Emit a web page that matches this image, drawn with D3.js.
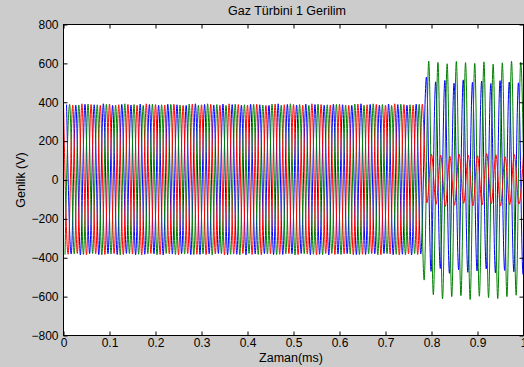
<!DOCTYPE html>
<html>
<head>
<meta charset="utf-8">
<script src="https://cdn.jsdelivr.net/npm/d3@7"></script>
<style>
  html, body { margin: 0; padding: 0; background: #cccccc; }
  svg { display: block; }
  text { font-family: "Liberation Sans", Arial, sans-serif; fill: #000; }
</style>
</head>
<body>
<div id="chart"></div>
<script>
"use strict";

// Chart texts and axis ticks
const title = "Gaz Türbini 1 Gerilim";
const xLabel = "Zaman(ms)";
const yLabel = "Genlik (V)";
const xTicks = [0, 0.1, 0.2, 0.3, 0.4, 0.5, 0.6, 0.7, 0.8, 0.9, 1];
const yTicks = [-800, -600, -400, -200, 0, 200, 400, 600, 800];

// Red phase: extreme points (time, volts)
const redT = [
  0, .01, .02, .03, .04, .05, .06, .07, .08, .09,
  .10, .11, .12, .13, .14, .15, .16, .17, .18, .19,
  .20, .21, .22, .23, .24, .25, .26, .27, .28, .29,
  .30, .31, .32, .33, .34, .35, .36, .37, .38, .39,
  .40, .41, .42, .43, .44, .45, .46, .47, .48, .49,
  .50, .51, .52, .53, .54, .55, .56, .57, .58, .59,
  .60, .61, .62, .63, .64, .65, .66, .67, .68, .69,
  .70, .71, .72, .73, .74, .75, .76, .77, .78, .79,
  .80, .81, .82, .83, .84, .85, .86, .87, .88, .89,
  .90, .91, .92, .93, .94, .95, .96, .97, .98, .99,
  1.00
];
const redV = [
  390, -382, 386, -378, 392, -385, 388, -380, 384, -383,
  391, -379, 387, -384, 389, -381, 385, -386, 392, -378,
  388, -383, 386, -380, 390, -385, 384, -379, 391, -382,
  387, -384, 389, -380, 385, -386, 392, -381, 388, -378,
  386, -383, 390, -385, 384, -380, 391, -382, 387, -379,
  389, -384, 385, -381, 392, -386, 388, -378, 386, -383,
  390, -380, 384, -385, 391, -382, 387, -379, 389, -384,
  385, -381, 392, -386, 388, -380, 386, -383, 390, -118,
  132, -125, 128, -136, 122, -130, 134, -120, 127, -133,
  125, -128, 136, -122, 130, -134, 120, -127, 131, -124,
  129
];

// Green phase
const greenT = [
  .0033, .0133, .0233, .0333, .0433, .0533, .0633, .0733, .0833, .0933,
  .1033, .1133, .1233, .1333, .1433, .1533, .1633, .1733, .1833, .1933,
  .2033, .2133, .2233, .2333, .2433, .2533, .2633, .2733, .2833, .2933,
  .3033, .3133, .3233, .3333, .3433, .3533, .3633, .3733, .3833, .3933,
  .4033, .4133, .4233, .4333, .4433, .4533, .4633, .4733, .4833, .4933,
  .5033, .5133, .5233, .5333, .5433, .5533, .5633, .5733, .5833, .5933,
  .6033, .6133, .6233, .6333, .6433, .6533, .6633, .6733, .6833, .6933,
  .7033, .7133, .7233, .7333, .7433, .7533, .7633, .7733,
  .784, .794, .804, .814, .824, .834, .844, .854, .864, .874,
  .884, .894, .904, .914, .924, .934, .944, .954, .964, .974,
  .984, .994, 1.004
];
const greenV = [
  -384, 389, -380, 386, -383, 391, -378, 387, -385, 390,
  -381, 385, -386, 392, -379, 388, -382, 384, -380, 390,
  -385, 387, -378, 389, -383, 386, -381, 391, -384, 385,
  -380, 392, -386, 388, -379, 384, -382, 390, -385, 387,
  -378, 389, -383, 386, -381, 391, -384, 385, -380, 392,
  -386, 388, -379, 384, -382, 390, -385, 387, -378, 389,
  -383, 386, -381, 391, -384, 385, -380, 392, -386, 388,
  -379, 384, -382, 390, -385, 387, -378, 389,
  -515, 612, -590, 605, -612, 598, -600, 610, -595, 604,
  -615, 600, -598, 608, -605, 596, -610, 603, -600, 611,
  -593, 606, -602
];

// Blue phase
const blueT = [
  .0067, .0167, .0267, .0367, .0467, .0567, .0667, .0767, .0867, .0967,
  .1067, .1167, .1267, .1367, .1467, .1567, .1667, .1767, .1867, .1967,
  .2067, .2167, .2267, .2367, .2467, .2567, .2667, .2767, .2867, .2967,
  .3067, .3167, .3267, .3367, .3467, .3567, .3667, .3767, .3867, .3967,
  .4067, .4167, .4267, .4367, .4467, .4567, .4667, .4767, .4867, .4967,
  .5067, .5167, .5267, .5367, .5467, .5567, .5667, .5767, .5867, .5967,
  .6067, .6167, .6267, .6367, .6467, .6567, .6667, .6767, .6867, .6967,
  .7067, .7167, .7267, .7367, .7467, .7567, .7667, .7767,
  .789, .799, .809, .819, .829, .839, .849, .859, .869, .879,
  .889, .899, .909, .919, .929, .939, .949, .959, .969, .979,
  .989, .999, 1.009
];
const blueV = [
  388, -381, 385, -386, 390, -379, 387, -384, 392, -380,
  384, -383, 389, -378, 386, -385, 391, -382, 388, -380,
  385, -386, 390, -381, 387, -379, 384, -384, 392, -383,
  389, -380, 386, -378, 391, -385, 388, -382, 385, -386,
  390, -381, 387, -379, 384, -384, 392, -383, 389, -380,
  386, -378, 391, -385, 388, -382, 385, -386, 390, -381,
  387, -379, 384, -384, 392, -383, 389, -380, 386, -378,
  391, -385, 388, -382, 385, -386, 390, -381,
  530, -470, 505, -455, 512, -480, 498, -462, 515, -475,
  502, -468, 509, -458, 496, -478, 511, -465, 504, -472,
  500, -485, 508
];

const width = 524;
const height = 367;
const plotLeft = 63.5, plotRight = 523.5, plotTop = 24.5, plotBottom = 335.5;

const svg = d3.select("#chart")
    .append("svg")
    .attr("width", width)
    .attr("height", height);

const x = d3.scaleLinear().domain([0, 1]).range([plotLeft, plotRight]);
const y = d3.scaleLinear().domain([-800, 800]).range([plotBottom, plotTop]);

// White plot area
svg.append("rect")
    .attr("x", plotLeft).attr("y", plotTop)
    .attr("width", plotRight - plotLeft).attr("height", plotBottom - plotTop)
    .attr("fill", "#fff");

svg.append("clipPath").attr("id", "plot-clip")
    .append("rect")
    .attr("x", plotLeft).attr("y", plotTop)
    .attr("width", plotRight - plotLeft).attr("height", plotBottom - plotTop);

// Curves: blue first, red on top (MATLAB order)
const line = d3.line()
    .x(d => x(d[0]))
    .y(d => y(d[1]))
    .curve(d3.curveMonotoneX);

const series = [
    { t: blueT, v: blueV, color: "#0000ff" },
    { t: greenT, v: greenV, color: "#008000" },
    { t: redT, v: redV, color: "#ff0000" }
];

const plot = svg.append("g").attr("clip-path", "url(#plot-clip)");
series.forEach(s => {
    plot.append("path")
        .datum(s.t.map((t, i) => [t, s.v[i]]))
        .attr("fill", "none")
        .attr("stroke", s.color)
        .attr("stroke-width", 1)
        .attr("d", line);
});

// Axes with inward ticks on all four sides
svg.append("g")
    .attr("transform", `translate(0,${plotBottom})`)
    .call(d3.axisBottom(x).tickValues(xTicks).tickFormat(d3.format("")).tickSize(-4).tickPadding(3))
    .call(g => g.select(".domain").remove());

svg.append("g")
    .attr("transform", `translate(0,${plotTop})`)
    .call(d3.axisTop(x).tickValues(xTicks).tickFormat("").tickSize(-4))
    .call(g => g.select(".domain").remove());

svg.append("g")
    .attr("transform", `translate(${plotLeft},0)`)
    .call(d3.axisLeft(y).tickValues(yTicks).tickFormat(d3.format("d")).tickSize(-4).tickPadding(5))
    .call(g => g.select(".domain").remove());

svg.append("g")
    .attr("transform", `translate(${plotRight},0)`)
    .call(d3.axisRight(y).tickValues(yTicks).tickFormat("").tickSize(-4))
    .call(g => g.select(".domain").remove());

svg.selectAll(".tick line").attr("stroke", "#000");
svg.selectAll(".tick text")
    .attr("font-size", 12)
    .attr("font-family", "'Liberation Sans', Arial, sans-serif")
    .attr("fill", "#000");

// Frame
svg.append("rect")
    .attr("x", plotLeft).attr("y", plotTop)
    .attr("width", plotRight - plotLeft).attr("height", plotBottom - plotTop)
    .attr("fill", "none")
    .attr("stroke", "#000")
    .attr("stroke-width", 1);

// Labels
svg.append("text")
    .attr("x", 287).attr("y", 15)
    .attr("text-anchor", "middle")
    .attr("font-size", 12.5)
    .text(title);

svg.append("text")
    .attr("x", 291).attr("y", 362)
    .attr("text-anchor", "middle")
    .attr("font-size", 12.5)
    .text(xLabel);

svg.append("text")
    .attr("transform", "translate(25,180) rotate(-90)")
    .attr("text-anchor", "middle")
    .attr("font-size", 12.5)
    .text(yLabel);
</script>
</body>
</html>
